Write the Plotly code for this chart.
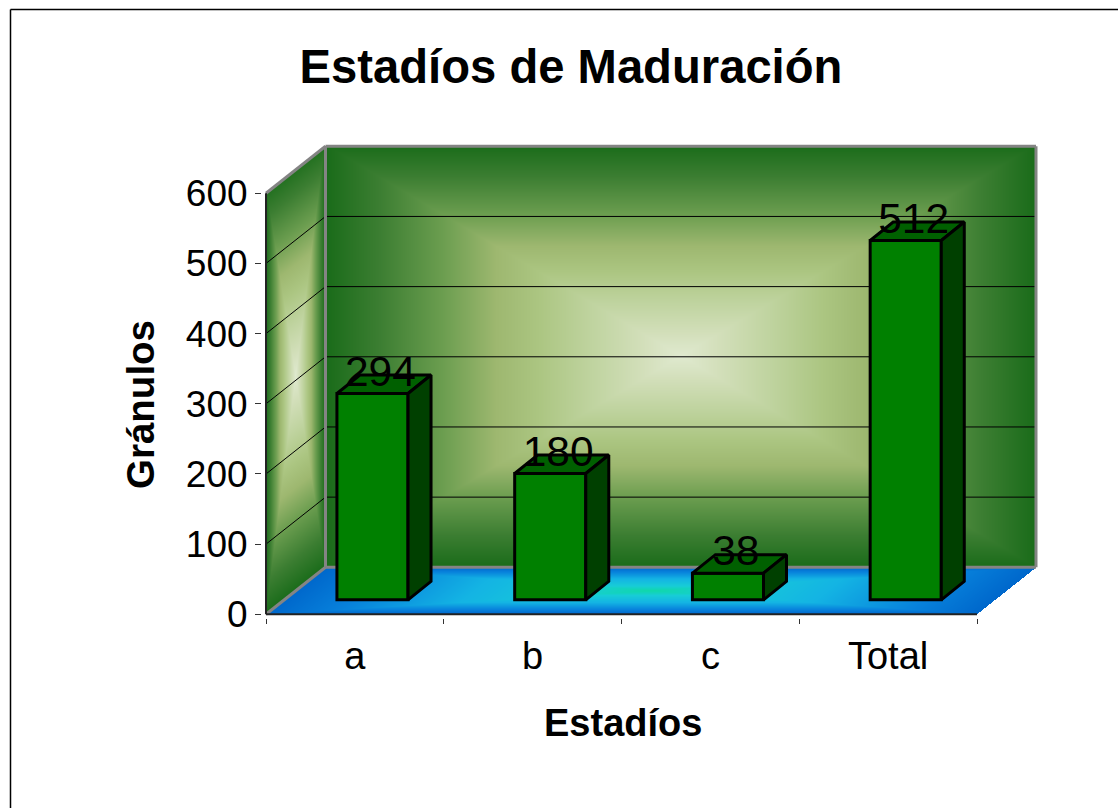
import base64, struct, zlib
import numpy as np
import plotly.graph_objects as go

# ---- data ----
categories = ["a", "b", "c", "Total"]
values = [294, 180, 38, 512]
y_ticks = [0, 100, 200, 300, 400, 500, 600]
x_axis_title = "Estadíos"
y_axis_title = "Gránulos"
chart_title = "Estadíos de Maduración"

# ---- page geometry (pixels) ----
W, H = 1118, 808
PX_L, PX_R, PX_T, PX_B = 266.0, 1036.0, 146.0, 614.3
PAD = 4.0
CAT_PX = 177.75
Y_PX = 0.7017
WALL_DX, WALL_DY = 59.5, 47.0
x_lo = -0.5
x_hi = x_lo + (PX_R - PX_L) / CAT_PX
y_hi = (PX_B - PX_T) / Y_PX
y_top = max(y_ticks)


def ux(px):
    return px / CAT_PX


def uy(px):
    return px / Y_PX


wdx, wdy = ux(WALL_DX), uy(WALL_DY)
bar_dx, bar_dy = ux(17.6), uy(14.5)
dep_dx, dep_dy = ux(23.0), uy(18.5)
bar_w = 0.4


# ---- gradient backdrop painted as a PNG ----
def ramp(t, stops):
    pos = [s[0] for s in stops]
    out = np.zeros(t.shape + (3,))
    for c in range(3):
        out[..., c] = np.interp(t, pos, [s[1][c] for s in stops])
    return out


green = [
    (0.00, (224, 234, 208)), (0.10, (212, 224, 188)), (0.25, (192, 212, 160)),
    (0.40, (172, 198, 130)), (0.52, (158, 184, 112)), (0.67, (108, 158, 80)),
    (0.85, (60, 126, 50)), (1.00, (26, 108, 26)),
]
blue = [
    (0.00, (16, 216, 170)), (0.20, (24, 205, 215)), (0.50, (20, 180, 228)),
    (0.80, (8, 130, 220)), (1.00, (0, 104, 204)),
]
iw, ih = int(PX_R - PX_L), int(PX_B - PX_T)
ys, xs = np.mgrid[0:ih, 0:iw]
xs = xs + PX_L + 0.5
ys = ys + PX_T + 0.5
img = np.zeros((ih, iw, 4))

# back wall
bx0, bx1, by0, by1 = PX_L + WALL_DX, PX_R, PX_T, PX_B - WALL_DY
m = (xs >= bx0) & (xs <= bx1) & (ys >= by0) & (ys <= by1)
t = np.maximum(np.abs(xs - 681) / 355, np.abs(ys - 356) / 211)
img[m, :3] = ramp(np.clip(t, 0, 1), green)[m]
img[m, 3] = 255

# side wall
u = (xs - PX_L) / WALL_DX
base_y = PX_B - WALL_DY * u
v = (base_y - ys) / (y_top * Y_PX)
m = (u >= 0) & (u <= 1) & (v >= 0) & (v <= 1)
t = np.maximum(np.abs(u - 0.5) / 0.5, np.abs(v - 0.51) / 0.51)
img[m, :3] = ramp(np.clip(t, 0, 1), green)[m]
img[m, 3] = 255

# floor
v = (PX_B - ys) / WALL_DY
u = (xs - PX_L - WALL_DX * v) / (4 * CAT_PX)
m = (u >= 0) & (u <= 1) & (v >= 0) & (v <= 1)
t = np.maximum(np.abs(u - 0.5) / 0.5, np.abs(v - 0.5) / 0.5)
img[m, :3] = ramp(np.clip(t, 0, 1), blue)[m]
img[m, 3] = 255


def png_uri(a):
    a = a.astype(np.uint8)
    h, w = a.shape[:2]
    raw = b"".join(b"\x00" + a[i].tobytes() for i in range(h))

    def chunk(tag, data):
        return struct.pack(">I", len(data)) + tag + data + struct.pack(">I", zlib.crc32(tag + data) & 0xFFFFFFFF)

    blob = b"\x89PNG\r\n\x1a\n" + chunk(b"IHDR", struct.pack(">IIBBBBB", w, h, 8, 6, 0, 0, 0)) \
        + chunk(b"IDAT", zlib.compress(raw, 9)) + chunk(b"IEND", b"")
    return "data:image/png;base64," + base64.b64encode(blob).decode()


fig = go.Figure()

# front faces
pos = list(range(len(categories)))
fig.add_trace(go.Bar(
    x=[p + bar_dx for p in pos], y=values, base=bar_dy, width=bar_w,
    marker=dict(color="#008000", line=dict(color="black", width=3)),
    hoverinfo="skip", showlegend=False,
))


def seg(x0, y0, x1, y1, color, width):
    return dict(type="line", xref="x", yref="y", x0=x0, y0=y0, x1=x1, y1=y1, layer="below",
                line=dict(color=color, width=width))


shapes = []
# grid lines on the side wall and back wall
for tick in y_ticks[1:-1]:
    shapes.append(seg(x_lo, tick, x_lo + wdx, tick + wdy, "black", 1))
    shapes.append(seg(x_lo + wdx, tick + wdy, x_hi, tick + wdy, "black", 1))
# wall frame
frame = [
    (x_lo, y_top, x_lo + wdx, y_top + wdy), (x_lo + wdx, y_top + wdy, x_hi, y_top + wdy),
    (x_hi, y_top + wdy, x_hi, wdy), (x_hi, wdy, x_lo + wdx, wdy),
    (x_lo + wdx, wdy, x_lo + wdx, y_top + wdy), (x_lo + wdx, wdy, x_lo, 0),
]
for a, b, c, d in frame:
    shapes.append(seg(a, b, c, d, "#848484", 3))
# front axis lines
shapes.append(seg(x_lo, 0, x_lo, y_top, "#222222", 2))
shapes.append(seg(x_lo, 0, x_lo + len(categories), 0, "#222222", 2))

# top and side faces of each bar
for p, val in zip(pos, values):
    l = p + bar_dx - bar_w / 2
    r = l + bar_w
    y0 = bar_dy
    y1 = val + bar_dy
    fig.add_trace(go.Scatter(
        x=[l, r, r + dep_dx, l + dep_dx, l], y=[y1, y1, y1 + dep_dy, y1 + dep_dy, y1],
        mode="lines", fill="toself", fillcolor="#006000", line=dict(color="black", width=3),
        hoverinfo="skip", showlegend=False,
    ))
    fig.add_trace(go.Scatter(
        x=[r, r + dep_dx, r + dep_dx, r, r], y=[y0, y0 + dep_dy, y1 + dep_dy, y1, y0],
        mode="lines", fill="toself", fillcolor="#004000", line=dict(color="black", width=3),
        hoverinfo="skip", showlegend=False,
    ))

# data labels
fig.add_trace(go.Scatter(
    x=[p + ux(25.5) for p in pos], y=[v + bar_dy + dep_dy for v in values],
    mode="text", text=[str(v) for v in values], textposition="middle center",
    textfont=dict(family="Liberation Sans", size=42.5, color="black"),
    hoverinfo="skip", showlegend=False, cliponaxis=False,
))

font = "Liberation Sans"
fig.update_layout(
    width=W, height=H, margin=dict(l=0, r=0, t=0, b=0, autoexpand=False), autosize=False,
    paper_bgcolor="white", plot_bgcolor="rgba(0,0,0,0)",
    showlegend=False, barmode="overlay",
    font=dict(family=font, color="black"),
    title=dict(text=f"<b>{chart_title}</b>", x=571 / W, y=1 - 66 / H, xref="paper", yref="paper",
               xanchor="center", yanchor="middle", font=dict(family=font, size=47.2, color="black")),
    xaxis=dict(
        automargin=False,
        domain=[(PX_L - PAD) / W, (PX_R + PAD) / W], range=[x_lo - ux(PAD), x_hi + ux(PAD)],
        showgrid=False, zeroline=False, showline=False,
        tickmode="array", tickvals=pos, ticktext=categories, ticks="outside", ticklen=4,
        tickcolor="rgba(0,0,0,0)", tickfont=dict(family=font, size=38, color="black"),
        minor=dict(tickmode="array", tickvals=[p - 0.5 for p in pos] + [pos[-1] + 0.5],
                   ticks="outside", ticklen=5, tickcolor="#333333", tickwidth=1),
    ),
    yaxis=dict(
        automargin=False,
        domain=[1 - (PX_B + PAD) / H, 1 - (PX_T - PAD) / H], range=[-uy(PAD), y_hi + uy(PAD)],
        showgrid=False, zeroline=False, showline=False,
        tickmode="array", tickvals=y_ticks, ticks="outside", ticklen=6, tickcolor="#333333", tickwidth=1,
        tickfont=dict(family=font, size=37, color="black"),
    ),
    images=[dict(source=png_uri(img), xref="paper", yref="paper", x=PX_L / W, y=1 - PX_T / H,
                 sizex=iw / W, sizey=ih / H, xanchor="left", yanchor="top", sizing="stretch", layer="below")],
    shapes=shapes + [
        dict(type="line", xref="paper", yref="paper", x0=10.5 / W, x1=1, y0=1 - 9.5 / H, y1=1 - 9.5 / H,
             line=dict(color="black", width=1.5)),
        dict(type="line", xref="paper", yref="paper", x0=10.5 / W, x1=10.5 / W, y0=0, y1=1 - 9.5 / H,
             line=dict(color="black", width=1.5)),
    ],
    annotations=[
        dict(text=f"<b>{x_axis_title}</b>", xref="paper", yref="paper", x=623 / W, y=1 - 723 / H,
             showarrow=False, xanchor="center", yanchor="middle", font=dict(family=font, size=38, color="black")),
        dict(text=f"<b>{y_axis_title}</b>", xref="paper", yref="paper", x=140 / W, y=1 - 405 / H, textangle=-90,
             showarrow=False, xanchor="center", yanchor="middle", font=dict(family=font, size=38.5, color="black")),
    ],
)

fig.write_html("out.html", post_script="document.body.style.margin='0';document.documentElement.style.overflow='hidden';",
               config={"responsive": False, "displayModeBar": False})
